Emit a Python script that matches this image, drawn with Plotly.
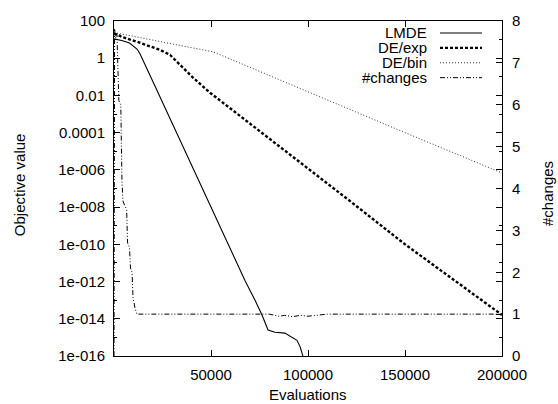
import plotly.graph_objects as go

# ---------------- data ----------------
lmde_x = [0, 4000, 8000, 10000, 12000, 13500, 15000, 17000, 20100, 30000, 40000, 50000,
          60000, 67500, 72700, 76300, 79400, 83000, 88100, 92300, 94300, 95900, 96900, 98000]
lmde_y = [1.1e1, 9.0, 6.6, 4.6, 3.0, 1.65, 7.9e-1, 2.8e-1, 5.5e-2, 3.2e-4, 1.8e-6, 1.0e-8,
          5.6e-11, 1.15e-12, 9.8e-14, 1.6e-14, 2.5e-15, 1.9e-15, 1.7e-15, 1.0e-15, 7.0e-16,
          3.2e-16, 1.3e-16, 6.0e-17]

deexp_x = [0, 5000, 11900, 23700, 28900, 34000, 40700, 49500, 63400, 100000, 121700, 150000, 200000]
deexp_y = [2.1e1, 1.3e1, 7.6, 2.8, 1.5, 4.5e-1, 9.1e-2, 1.4e-2, 1.07e-3, 1.3e-6, 2.1e-8,
           1.0e-10, 1.6e-14]

debin_x = [0, 17000, 34000, 51000, 56000, 75000, 100000, 125000, 150000, 175000, 200000]
debin_y = [2.4e1, 1.05e1, 4.6, 2.2, 1.35, 1.95e-1, 1.6e-2, 1.3e-3, 1.0e-4, 8.3e-6, 6.8e-7]

chg_x = [0, 300, 800, 1500, 2500, 3500, 4100, 4600, 5500, 6500, 7000, 8000, 8500, 9300,
         9800, 10800, 11800, 40000, 80000, 85000, 88000, 92000, 96000, 100000, 105000,
         110000, 150000, 200000]
chg_y = [0, 7.8, 7.6, 7.7, 6.1, 6.0, 4.2, 3.7, 3.6, 3.5, 2.7, 2.6, 2.1, 2.0,
         1.4, 1.15, 1.0, 1.0, 1.0, 0.95, 0.97, 0.94, 0.97, 0.95, 0.98, 1.0, 1.0, 1.0]

x_ticks = [50000, 100000, 150000, 200000]
y_ticks = [1e2, 1, 1e-2, 1e-4, 1e-6, 1e-8, 1e-10, 1e-12, 1e-14, 1e-16]
y_ticktext = ["100", "1", "0.01", "0.0001", "1e-006", "1e-008", "1e-010", "1e-012",
              "1e-014", "1e-016"]
y_minor = [1e1, 1e-1, 1e-3, 1e-5, 1e-7, 1e-9, 1e-11, 1e-13, 1e-15]
y2_ticks = [0, 1, 2, 3, 4, 5, 6, 7, 8]

legend_names = ["LMDE", "DE/exp", "DE/bin", "#changes"]

# ---------------- styles ----------------
FONT = "Liberation Sans, Arial, Helvetica, sans-serif"
FS = 15
styles = [
    dict(color="black", width=1.1, dash="solid"),
    dict(color="black", width=2.4, dash="3px,2px"),
    dict(color="#333", width=1, dash="1px,2px"),
    dict(color="black", width=1, dash="5px,2px,1px,2px,1px,2px"),
]

fig = go.Figure()
fig.add_trace(go.Scatter(x=lmde_x, y=lmde_y, mode="lines", line=styles[0], name=legend_names[0]))
fig.add_trace(go.Scatter(x=deexp_x, y=deexp_y, mode="lines", line=styles[1], name=legend_names[1]))
fig.add_trace(go.Scatter(x=debin_x, y=debin_y, mode="lines", line=styles[2], name=legend_names[2]))
fig.add_trace(go.Scatter(x=chg_x, y=chg_y, mode="lines", line=styles[3], name=legend_names[3],
                         yaxis="y2"))

L, R, T, B = 114, 56, 19, 48
W, H = 558, 404
pw, ph = W - L - R, H - T - B

def px_x(p):
    return (p - L) / pw

def px_y(p):
    return (H - B - p) / ph

fig.update_layout(
    width=W, height=H,
    margin=dict(l=L, r=R, t=T, b=B, pad=0),
    paper_bgcolor="white", plot_bgcolor="white",
    showlegend=False,
    font=dict(family=FONT, size=FS, color="black"),
    xaxis=dict(range=[0, 200000], tickvals=x_ticks, ticktext=[str(v) for v in x_ticks],
               ticks="inside", ticklen=6, tickcolor="black", showline=True, linecolor="black",
               linewidth=1, mirror="ticks", showgrid=False, zeroline=False,
               ticklabelstandoff=5),
    yaxis=dict(type="log", range=[-16, 2], tickvals=y_ticks, ticktext=y_ticktext,
               ticks="inside", ticklen=6, tickcolor="black", showline=True, linecolor="black",
               linewidth=1, mirror="ticks", showgrid=False, zeroline=False,
               ticklabelstandoff=5,
               minor=dict(tickvals=y_minor, ticks="inside", ticklen=3, tickcolor="black",
                          showgrid=False)),
    yaxis2=dict(overlaying="y", side="right", range=[0, 8], tickvals=y2_ticks,
                ticks="inside", ticklen=6, tickcolor="black", showgrid=False, zeroline=False,
                showline=False, ticklabelstandoff=9),
)

annotations = [
    dict(text="Objective value", x=px_x(19), y=0.51, xref="paper", yref="paper",
         textangle=-90, showarrow=False, xanchor="center", yanchor="middle"),
    dict(text="#changes", x=px_x(548), y=px_y(193), xref="paper", yref="paper",
         textangle=-90, showarrow=False, xanchor="center", yanchor="middle"),
    dict(text="Evaluations", x=0.5, y=px_y(395), xref="paper", yref="paper",
         showarrow=False, xanchor="center", yanchor="middle"),
]
shapes = []
leg_y = [31, 46, 61, 76]
for name, st, yy in zip(legend_names, styles, leg_y):
    annotations.append(dict(text=name, x=px_x(428), y=px_y(yy), xref="paper", yref="paper",
                            showarrow=False, xanchor="right", yanchor="middle",
                            borderpad=0))
    shapes.append(dict(type="line", xref="paper", yref="paper", x0=px_x(440), x1=px_x(482),
                       y0=px_y(yy), y1=px_y(yy), line=st))
fig.update_layout(annotations=annotations, shapes=shapes)

fig.write_html("out.html")
